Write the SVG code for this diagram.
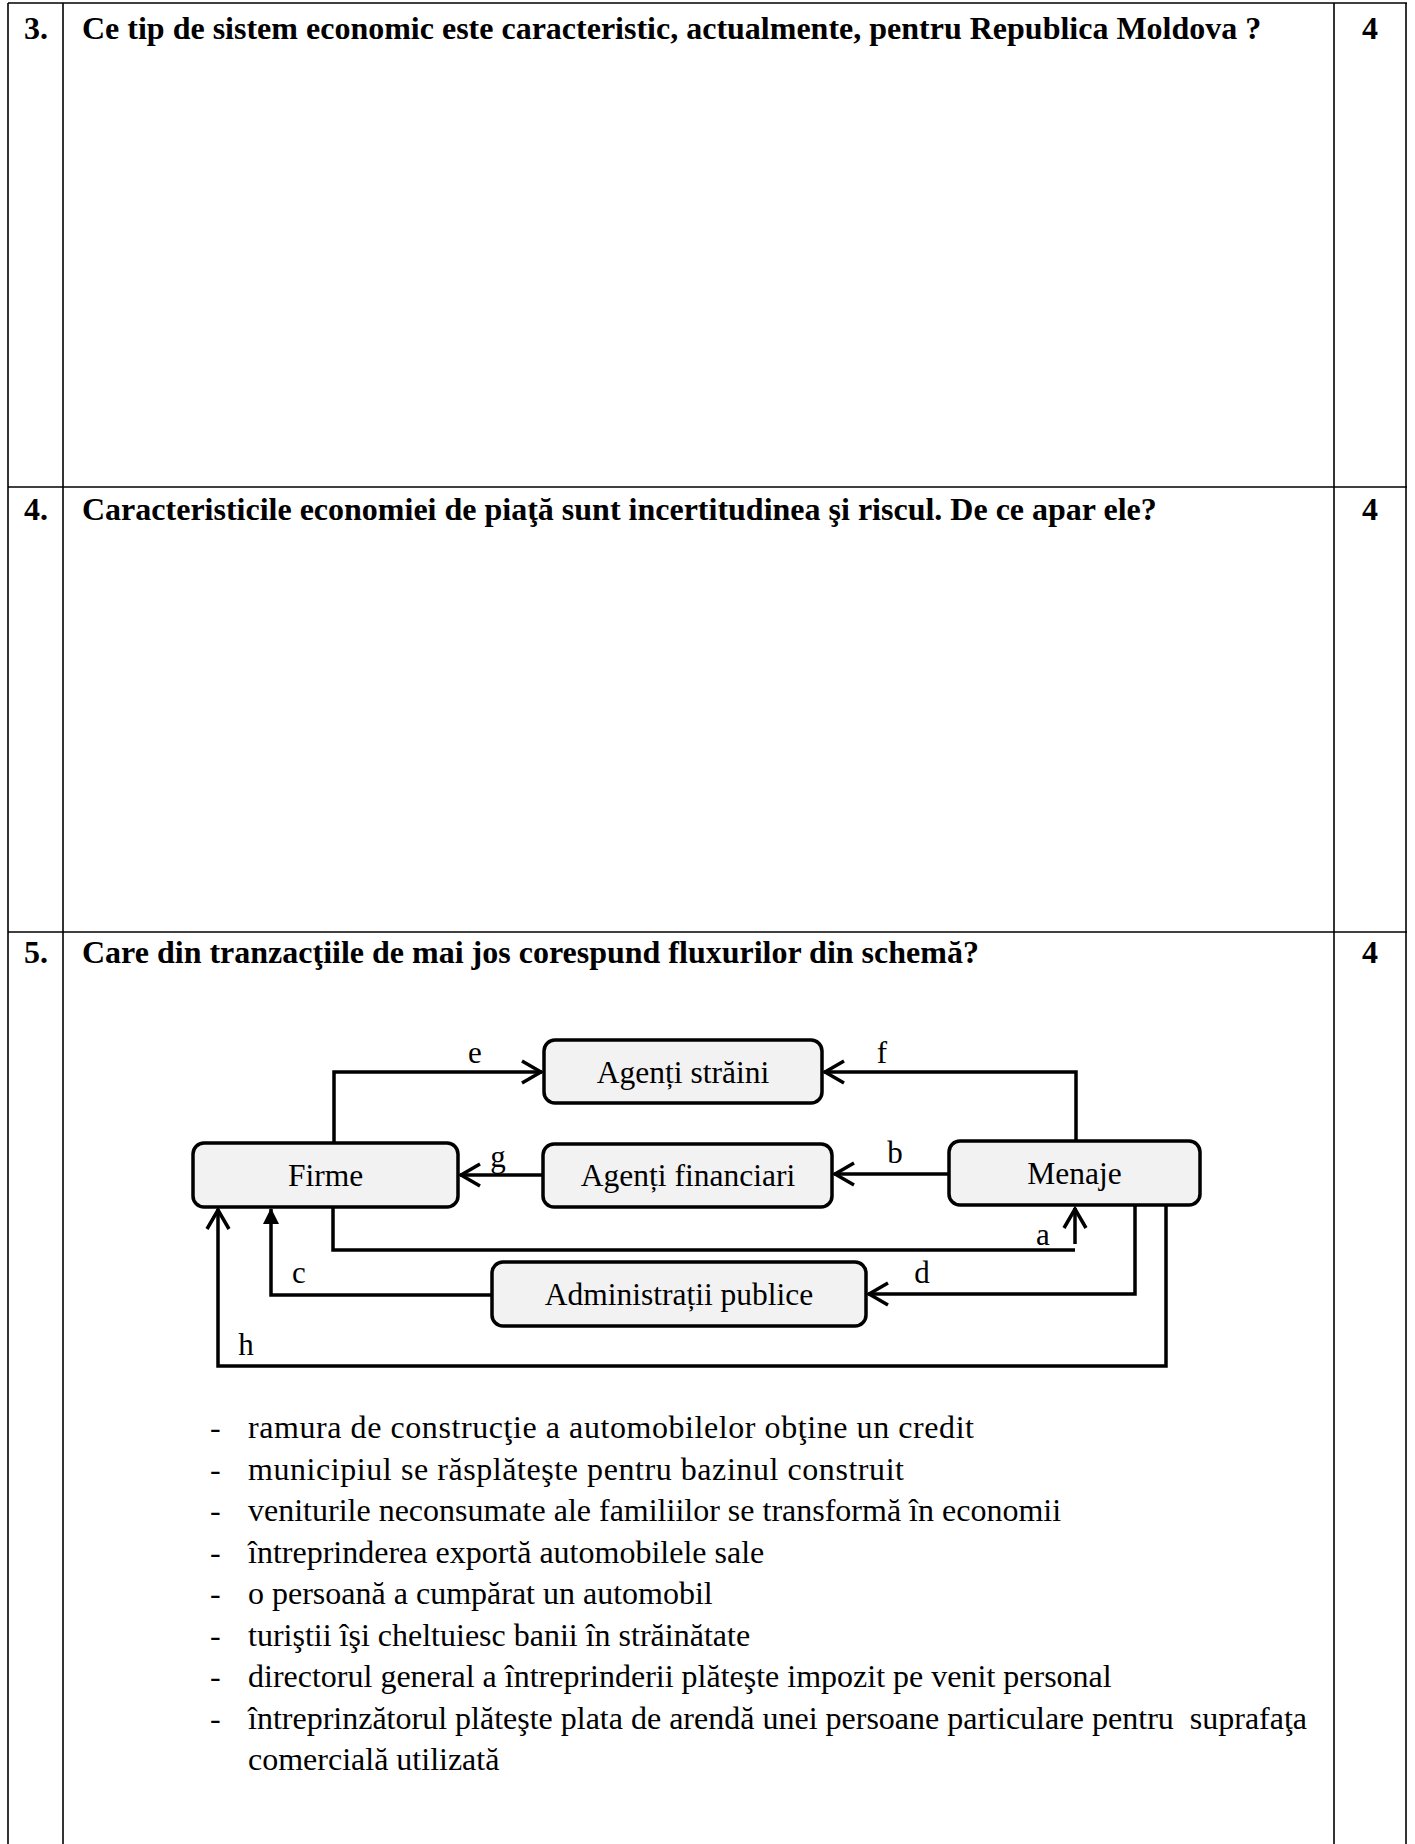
<svg xmlns="http://www.w3.org/2000/svg" width="1415" height="1844" viewBox="0 0 1415 1844">
<style>
.tl{stroke:#000;stroke-width:1.6;fill:none}
.q{font-family:"Liberation Serif","Times New Roman",serif;font-size:32px;font-weight:bold;fill:#000}
.t{font-family:"Liberation Serif","Times New Roman",serif;font-size:32px;fill:#000}
.bx{fill:#f2f2f2;stroke:#000;stroke-width:3.5}
.bt{font-family:"Liberation Serif","Times New Roman",serif;font-size:31.5px;fill:#000;text-anchor:middle}
.lb{font-family:"Liberation Serif","Times New Roman",serif;font-size:31px;fill:#000;text-anchor:middle}
.cn{fill:none;stroke:#000;stroke-width:3.5;stroke-linejoin:miter}
</style>
<defs>
<marker id="open" markerUnits="userSpaceOnUse" viewBox="0 0 24 26" refX="22" refY="13" markerWidth="24" markerHeight="26" orient="auto">
<path d="M2,2 L21,13 L2,24" fill="none" stroke="#000" stroke-width="3.5"/>
</marker>
<marker id="fill" markerUnits="userSpaceOnUse" viewBox="0 0 16 16" refX="15" refY="8" markerWidth="16" markerHeight="16" orient="auto">
<path d="M0,0 L16,8 L0,16 Z" fill="#000"/>
</marker>
</defs>
<rect width="1415" height="1844" fill="#fff"/>
<g id="table">
<line class="tl" x1="8" y1="3" x2="1407" y2="3"/>
<line class="tl" x1="8" y1="487" x2="1407" y2="487"/>
<line class="tl" x1="8" y1="932" x2="1407" y2="932"/>
<line class="tl" x1="8" y1="3" x2="8" y2="1844"/>
<line class="tl" x1="63" y1="3" x2="63" y2="1844"/>
<line class="tl" x1="1334" y1="3" x2="1334" y2="1844"/>
<line class="tl" x1="1406" y1="3" x2="1406" y2="1844"/>
</g>
<g id="questions">
<text class="q" x="24" y="39">3.</text>
<text class="q" x="82" y="39">Ce tip de sistem economic este caracteristic, actualmente, pentru Republica Moldova ?</text>
<text class="q" x="1370" y="39" text-anchor="middle">4</text>
<text class="q" x="24" y="520">4.</text>
<text class="q" x="82" y="520">Caracteristicile economiei de piaţă sunt incertitudinea şi riscul. De ce apar ele?</text>
<text class="q" x="1370" y="520" text-anchor="middle">4</text>
<text class="q" x="24" y="963">5.</text>
<text class="q" x="82" y="963">Care din tranzacţiile de mai jos corespund fluxurilor din schemă?</text>
<text class="q" x="1370" y="963" text-anchor="middle">4</text>
</g>
<g id="connectors">
<path class="cn" d="M334,1143 V1072 H542" marker-end="url(#open)"/>
<path class="cn" d="M1076,1141 V1072 H824" marker-end="url(#open)"/>
<path class="cn" d="M949,1174 H834" marker-end="url(#open)"/>
<path class="cn" d="M543,1175 H460" marker-end="url(#open)"/>
<path class="cn" d="M333,1207 V1250 H1075"/>
<path class="cn" d="M1075,1244 V1208" marker-end="url(#open)"/>
<path class="cn" d="M1135,1205 V1294 H868" marker-end="url(#open)"/>
<path class="cn" d="M492,1295 H271 V1209" marker-end="url(#fill)"/>
<path class="cn" d="M1166,1205 V1366 H218 V1209" marker-end="url(#open)"/>
<text class="lb" x="475" y="1063">e</text>
<text class="lb" x="882" y="1063">f</text>
<text class="lb" x="498" y="1167">g</text>
<text class="lb" x="895" y="1163">b</text>
<text class="lb" x="1043" y="1245">a</text>
<text class="lb" x="922" y="1283">d</text>
<text class="lb" x="299" y="1283">c</text>
<text class="lb" x="246" y="1355">h</text>
</g>
<g id="agenti-straini">
<rect class="bx" x="544" y="1040" width="278" height="63" rx="11"/>
<text class="bt" x="683" y="1083">Agenți străini</text>
</g>
<g id="firme">
<rect class="bx" x="193" y="1143" width="265" height="64" rx="11"/>
<text class="bt" x="325.5" y="1186">Firme</text>
</g>
<g id="agenti-financiari">
<rect class="bx" x="543" y="1144" width="289" height="63" rx="11"/>
<text class="bt" x="688" y="1186">Agenți financiari</text>
</g>
<g id="menaje">
<rect class="bx" x="949" y="1141" width="251" height="64" rx="11"/>
<text class="bt" x="1074.5" y="1184">Menaje</text>
</g>
<g id="administratii-publice">
<rect class="bx" x="492" y="1262" width="374" height="64" rx="11"/>
<text class="bt" x="679" y="1305">Administrații publice</text>
</g>
<g id="list">
<text class="t" x="210" y="1438">-</text><text class="t" x="248" y="1438" textLength="726" lengthAdjust="spacing">ramura de construcţie a automobilelor obţine un credit</text>
<text class="t" x="210" y="1479.5">-</text><text class="t" x="248" y="1479.5" textLength="656" lengthAdjust="spacing">municipiul se răsplăteşte pentru bazinul construit</text>
<text class="t" x="210" y="1521">-</text><text class="t" x="248" y="1521">veniturile neconsumate ale familiilor se transformă în economii</text>
<text class="t" x="210" y="1562.5">-</text><text class="t" x="248" y="1562.5">întreprinderea exportă automobilele sale</text>
<text class="t" x="210" y="1604">-</text><text class="t" x="248" y="1604">o persoană a cumpărat un automobil</text>
<text class="t" x="210" y="1645.5">-</text><text class="t" x="248" y="1645.5">turiştii îşi cheltuiesc banii în străinătate</text>
<text class="t" x="210" y="1687">-</text><text class="t" x="248" y="1687">directorul general a întreprinderii plăteşte impozit pe venit personal</text>
<text class="t" x="210" y="1728.5">-</text><text class="t" x="248" y="1728.5" xml:space="preserve">întreprinzătorul plăteşte plata de arendă unei persoane particulare pentru  suprafaţa</text>
<text class="t" x="248" y="1770">comercială utilizată</text>
</g>
</svg>
